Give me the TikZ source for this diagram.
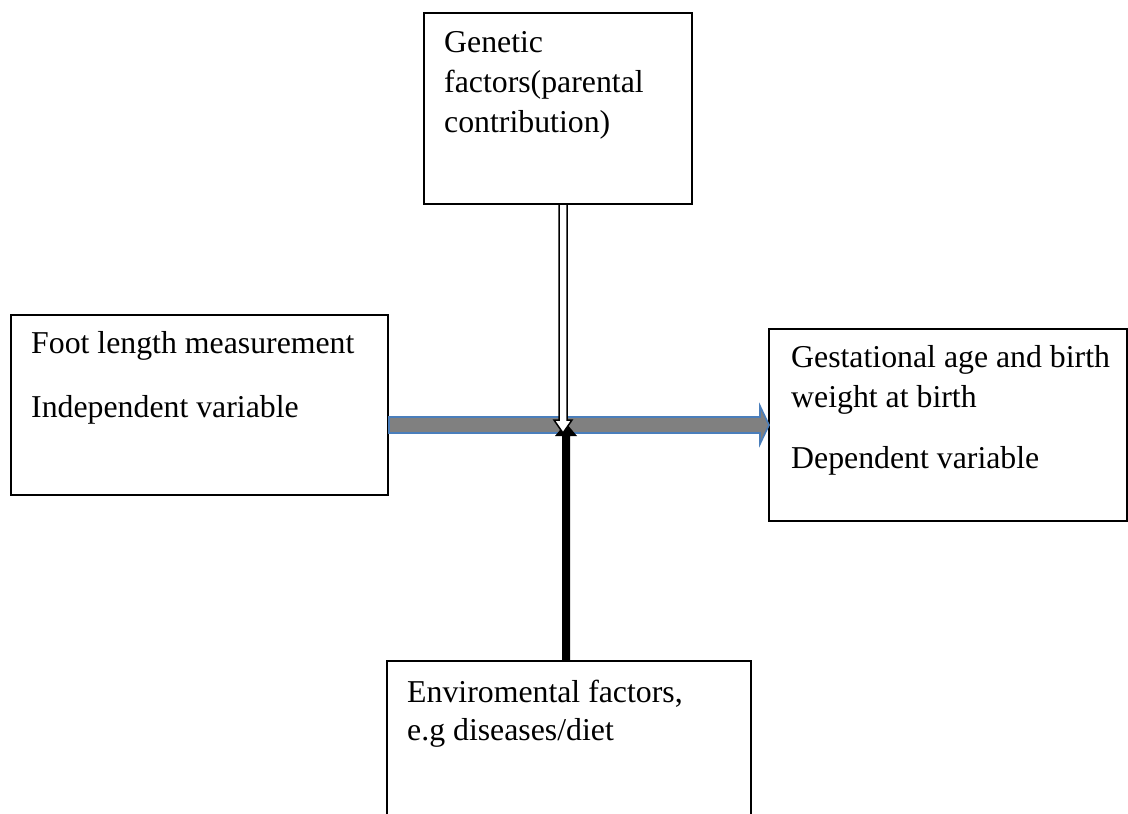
\documentclass[tikz,border=0pt]{standalone}
\usepackage{fontspec}
\setmainfont{Liberation Serif}
\usetikzlibrary{calc}
\definecolor{arrowgray}{HTML}{808080}
\definecolor{arrowblue}{HTML}{4A7EBB}
\tikzset{
  box/.style={draw=black, line width=2pt, fill=white, inner sep=0pt, anchor=north west},
  txt/.style={inner sep=0pt, anchor=base west, font=\fontsize{31.8}{40}\selectfont},
}
\begin{document}
\begin{tikzpicture}[x=1pt,y=-1pt]
\useasboundingbox (0,0) rectangle (1128,814);
% boxes
\node[box, minimum width=268pt, minimum height=191pt] (gen) at (423,12) {};
\node[box, minimum width=377pt, minimum height=180pt] (foot) at (10,314) {};
\node[box, minimum width=358pt, minimum height=192pt] (gest) at (768,328) {};
\node[box, minimum width=364pt, minimum height=158pt] (env) at (386,660) {};
% texts
\node[txt] (gen1) at (444,52) {Genetic};
\node[txt] (gen2) at (444,92) {factors(parental};
\node[txt] (gen3) at (444,132) {contribution)};
\node[txt] (foot1) at (31,353) {Foot length measurement};
\node[txt] (foot2) at (31,417) {Independent variable};
\node[txt] (gest1) at (791,367) {Gestational age and birth};
\node[txt] (gest2) at (791,407) {weight at birth};
\node[txt] (gest3) at (791,468) {Dependent variable};
\node[txt] (env1) at (407,702) {Enviromental factors,};
\node[txt] (env2) at (407,740) {e.g diseases/diet};
% horizontal arrow
\coordinate (h1) at (foot.east |- 0,425);
\coordinate (h2) at (gest.west |- 0,425);
\filldraw[fill=arrowgray, draw=arrowblue, line width=1.6pt, line join=miter]
  ($(h1)+(0,-8)$) -- ($(h2)+(-8,-8)$) -- ($(h2)+(-8,-19)$) -- ($(h2)+(1,0)$)
  -- ($(h2)+(-8,19)$) -- ($(h2)+(-8,8)$) -- ($(h1)+(0,8)$) -- cycle;
% black arrow from environment box
\coordinate (b0) at (env.north -| 566,0);
\coordinate (btip) at (566,423);
\fill[black] ($(b0)+(-4,0)$) -- ($(btip)+(-4,13)$) -- ($(btip)+(-11,13)$) -- (btip)
  -- ($(btip)+(11,13)$) -- ($(btip)+(4,13)$) -- ($(b0)+(4,0)$) -- cycle;
% hollow arrow from genetic box
\coordinate (t0) at (gen.south -| 563,0);
\coordinate (ttip) at (563,433);
\filldraw[fill=white, draw=black, line width=1.5pt, line join=miter]
  ($(t0)+(-4,0)$) -- ($(ttip)+(-4,-13)$) -- ($(ttip)+(-9,-13)$) -- (ttip)
  -- ($(ttip)+(9,-13)$) -- ($(ttip)+(4,-13)$) -- ($(t0)+(4,0)$);
\end{tikzpicture}
\end{document}
